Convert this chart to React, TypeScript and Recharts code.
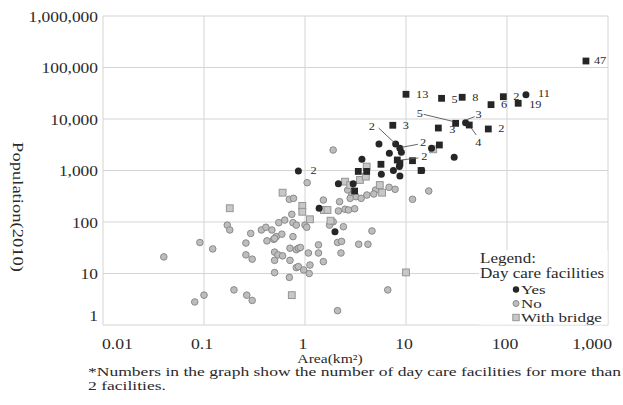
import { ScatterChart, Scatter, XAxis, YAxis, CartesianGrid } from 'recharts';

const SERIF = "'Liberation Serif', 'Times New Roman', serif";
const INK = '#2a2a2a';
const GRID = '#d4d4d4';

const areaTicks = [0.01, 0.1, 1, 10, 100, 1000];
const popTicks = [1, 10, 100, 1000, 10000, 100000, 1000000];

// islands with day care facilities and a bridge to the mainland
const yesBridgeArea = [10, 22.5, 36, 69.5, 92, 129, 605, 7.4, 20.9, 31, 42.3, 65.3, 21.4, 5.65, 8.2, 8.7, 11.6, 14.1, 3.37, 4.08, 3.1];
const yesBridgePop = [30200, 25200, 26400, 19000, 27100, 20200, 133700, 7550, 6680, 8240, 7640, 6400, 3130, 1320, 1600, 1380, 1550, 1000, 960, 960, 400];
const yesBridgeCount = [13, 5, 8, 6, 2, 19, 47, 3, 3, 5, 4, 2, null, null, 2, null, null, null, null, null, null];

// islands with day care facilities, no bridge
const yesArea = [154, 38.9, 5.4, 7.9, 8.7, 9.0, 6.84, 3.66, 17.9, 30, 0.86, 5.7, 8.7, 7.5, 8.6, 2.14, 3.0, 1.38, 1.98, 14.3];
const yesPop = [29600, 8470, 3270, 3270, 2700, 2250, 2160, 1650, 2700, 1800, 980, 850, 780, 1000, 1190, 550, 550, 185, 65, 1000];
const yesCount = [11, 3, null, 2, 2, null, null, null, null, null, 2, null, null, null, null, null, null, null, null, null];

// no facilities, bridge
const bridgeArea = [0.18, 0.74, 10, 0.6, 0.94, 0.94, 1.54, 1.67, 1.12, 1.79, 4.08, 3.5, 4.0, 2.49, 2.8, 5.5, 5.8, 18.6];
const bridgePop = [185, 3.8, 10.5, 371, 205, 158, 171, 171, 113, 106, 1190, 655, 760, 607, 522, 522, 371, 2580];

// no facilities, no bridge
const noArea = [
  0.04, 0.091, 0.122, 0.17, 0.18, 0.198, 0.265, 0.3, 0.1, 0.081, 0.29, 0.26, 0.26, 0.3, 0.37, 0.41, 0.42, 0.49, 0.52,
  0.59, 0.55, 0.63, 0.76, 0.74, 0.7, 0.77, 0.5, 0.5, 0.54, 0.6, 0.71, 0.76, 0.82, 0.71, 0.82, 0.5, 0.7,
  2.4, 4.6, 2.1, 2.3, 3.4, 4.2, 2.27, 6.6, 2.1, 1.36, 1.52, 1.12, 1.1, 0.82, 1.0, 0.86, 1.08, 1.36, 0.86, 0.97, 1.75, 1.9,
  1.9, 1.05, 1.52, 2.14, 2.49, 2.69, 3.1, 5.0, 4.8, 6.8, 7.8, 11.6, 16.8, 0.47, 1.04, 0.5, 0.9, 2.65, 2.9, 3.2, 3.6, 4.1,
  2.2, 2.8,
];
const noPop = [
  21, 40, 30, 87, 70, 4.8, 3.8, 3.0, 3.8, 2.8, 60, 39, 23, 19, 70, 79, 43, 46, 52,
  58, 97, 109, 97, 141, 276, 288, 26, 18, 23, 22, 31, 52, 29, 18, 13, 10.4, 8.4,
  81, 67, 40, 42, 37, 37, 25, 4.8, 1.9, 36, 17, 14.6, 10, 87, 87, 31, 25, 25, 13.6, 11.7, 87, 101,
  2500, 580, 267, 164, 177, 171, 181, 418, 350, 472, 431, 276, 400, 70, 79, 48, 32, 418, 334, 310, 288, 334,
  248, 288,
];

type Pt = { area: number; pop: number; n?: number | null; tag?: string };

const zip = (a: number[], p: number[], n?: (number | null)[], prefix = ''): Pt[] =>
  a.map((v, i) => ({ area: v, pop: p[i], n: n ? n[i] : null, tag: `${prefix}${i}` }));

const yesBridge = zip(yesBridgeArea, yesBridgePop, yesBridgeCount, 'sq');
const yes = zip(yesArea, yesPop, yesCount, 'c');
const bridge = zip(bridgeArea, bridgePop);
const no = zip(noArea, noPop);
const labelled = [...yesBridge, ...yes].filter((d) => d.n != null);

// where each count label sits relative to its marker: [dx, dy, leader?]
const labelSpots: Record<string, [number, number, number[]?]> = {
  sq1: [10, 1],
  sq3: [10, 0],
  sq5: [11, 1],
  sq6: [8, 0],
  sq8: [11, 1.5],
  sq9: [-39, -10, [-32, -9, -3, -2]],
  sq10: [6, 18, [7, 10, 2, 3]],
  sq14: [24, -3, [4, 0, 21, -2]],
  c0: [12, -1.5],
  c1: [10, -8, [9, -6, 1, -3]],
  c3: [-27, -17, [-17, -16, -1, -1]],
  c4: [20, -6, [18, -4, 2, -1]],
  c10: [12, 0],
};

const fmt = (v: number) => v.toLocaleString('en-US');

function T({ x, y, size = 15, anchor = 'start', sx = 1.15, rot = 0, children }: any) {
  const tf = `translate(${x},${y})${rot ? ` rotate(${rot})` : ''} scale(${sx},1)`;
  return (
    <text
      transform={tf}
      textAnchor={anchor}
      dominantBaseline="central"
      fontSize={size}
      fontFamily={SERIF}
      fill={INK}
      style={{ fill: INK }}
    >
      {children}
    </text>
  );
}

const XTick = ({ x, payload }: any) => {
  const v = payload.value;
  const first = v === areaTicks[0];
  const last = v === areaTicks[areaTicks.length - 1];
  return (
    <T x={first ? 102 : last ? 612 : x - 2} y={344} anchor={first ? 'start' : last ? 'end' : 'middle'} size={14.5} sx={1.22}>
      {fmt(v)}
    </T>
  );
};

const YTick = ({ y, payload }: any) => (
  <T x={98} y={payload.value === 1 ? y - 9 : y + 1} anchor="end" size={14.5} sx={1.2}>
    {fmt(payload.value)}
  </T>
);

const YesDot = ({ cx, cy }: any) => <circle cx={cx} cy={cy} r={3.5} fill="#262626" />;
const YesSquare = ({ cx, cy }: any) => <rect x={cx - 3.4} y={cy - 3.4} width={6.8} height={6.8} fill="#262626" />;
const NoDot = ({ cx, cy }: any) => <circle cx={cx} cy={cy} r={3.3} fill="#bdbdbd" stroke="#8a8a8a" strokeWidth={1} />;
const BridgeSquare = ({ cx, cy }: any) => (
  <rect x={cx - 3.4} y={cy - 3.4} width={6.8} height={6.8} fill="#c8c8c8" stroke="#959595" strokeWidth={1} />
);

const CountLabel = ({ cx, cy, payload }: any) => {
  const [dx, dy, leader] = labelSpots[payload.tag] ?? [10, 0];
  return (
    <g>
      {leader && (
        <line
          x1={cx + leader[0]}
          y1={cy + leader[1]}
          x2={cx + leader[2]}
          y2={cy + leader[3]}
          stroke="#555"
          strokeWidth={0.9}
        />
      )}
      <T x={cx + dx} y={cy + dy} size={11} sx={1.12}>
        {payload.n}
      </T>
    </g>
  );
};

export default function App() {
  return (
    <div style={{ position: 'relative', width: 623, height: 405, background: '#fff' }}>
      <style>{'body{margin:0}'}</style>
      <ScatterChart width={623} height={405} margin={{ top: 16, right: 15, bottom: 0, left: 0 }}>
        <CartesianGrid stroke={GRID} strokeWidth={1} />
        <XAxis
          type="number"
          dataKey="area"
          scale="log"
          domain={[0.01, 1000]}
          ticks={areaTicks}
          allowDataOverflow
          axisLine={false}
          tickLine={false}
          height={80}
          tick={<XTick />}
          interval={0}
        />
        <YAxis
          type="number"
          dataKey="pop"
          scale="log"
          domain={[1, 1000000]}
          ticks={popTicks}
          allowDataOverflow
          axisLine={false}
          tickLine={false}
          width={103}
          tick={<YTick />}
          interval={0}
        />
        <Scatter data={no} shape={<NoDot />} isAnimationActive={false} />
        <Scatter data={bridge} shape={<BridgeSquare />} isAnimationActive={false} />
        <Scatter data={yes} shape={<YesDot />} isAnimationActive={false} />
        <Scatter data={yesBridge} shape={<YesSquare />} isAnimationActive={false} />
        <Scatter data={labelled} shape={<CountLabel />} fill={INK} isAnimationActive={false} />
      </ScatterChart>
      <svg width={623} height={405} style={{ position: 'absolute', left: 0, top: 0, pointerEvents: 'none' }}>
        {/* legend panel */}
        <rect x={479} y={250} width={128.5} height={74.5} fill="#fff" />
        <T x={480} y={258} size={14} sx={1.22}>Legend:</T>
        <T x={480} y={273.5} size={14} sx={1.22}>Day care facilities</T>
        <circle cx={516} cy={289.5} r={3.2} fill="#262626" />
        <T x={521} y={289.5} size={12.5} sx={1.36}>Yes</T>
        <circle cx={516} cy={303.5} r={3} fill="#bdbdbd" stroke="#8a8a8a" strokeWidth={1} />
        <T x={521} y={303.5} size={12.5} sx={1.36}>No</T>
        <rect x={512.8} y={314.3} width={6.4} height={6.4} fill="#c8c8c8" stroke="#959595" strokeWidth={1} />
        <T x={521} y={317.5} size={12.5} sx={1.36}>With bridge</T>

        <T x={18} y={207} size={14.5} sx={1.28} rot={90} anchor="middle">Population(2010)</T>
        <T x={330} y={358} size={13} sx={1.2} anchor="middle">Area(km²)</T>
        <T x={88} y={371.5} size={13.5} sx={1.3}>*Numbers in the graph show the number of day care facilities for more than</T>
        <T x={88} y={385} size={13.5} sx={1.3}>2 facilities.</T>
      </svg>
    </div>
  );
}
